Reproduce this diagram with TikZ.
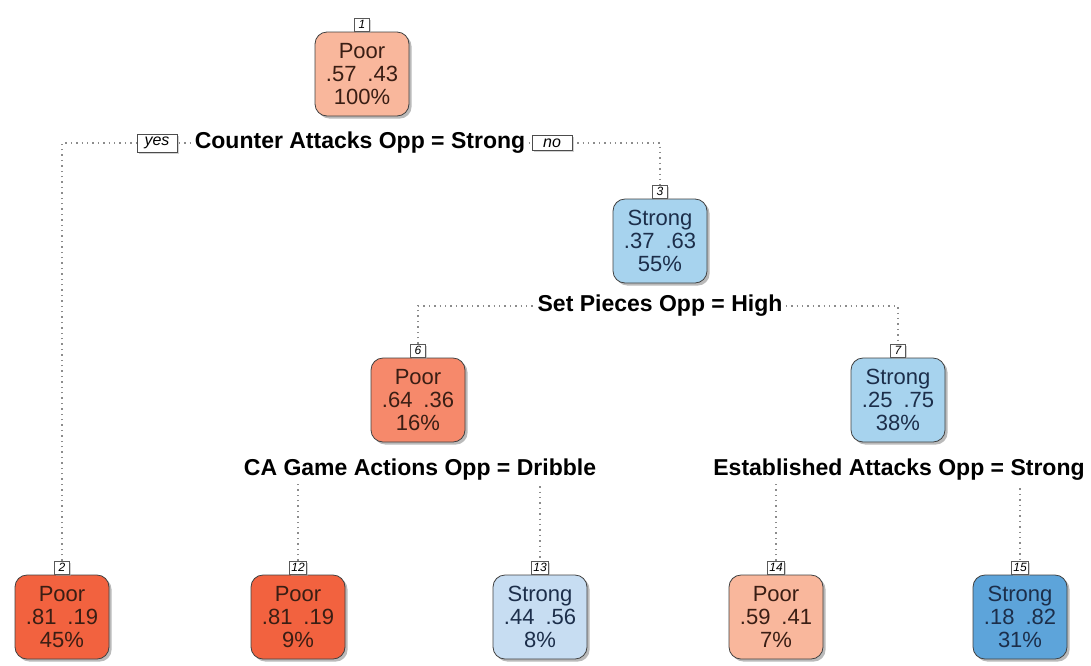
\documentclass[tikz,border=0pt]{standalone}
\usepackage{fontspec}
\setmainfont{Liberation Sans}
\usetikzlibrary{shadows,backgrounds}
\definecolor{poorlt}{HTML}{F9B79C}
\definecolor{poormd}{HTML}{F6896B}
\definecolor{poordk}{HTML}{F2623F}
\definecolor{stronglt}{HTML}{C7DDF2}
\definecolor{strongmd}{HTML}{A7D3EE}
\definecolor{strongdk}{HTML}{5DA4DA}
\definecolor{poortext}{HTML}{3A1E14}
\definecolor{strongtext}{HTML}{1C2E4A}
\tikzset{
	leaf/.style={draw=black!75, rounded corners=6pt, minimum width=47pt, minimum height=42pt, inner sep=1pt, align=center, font=\fontsize{11}{11.6}\selectfont, drop shadow={shadow xshift=1.3pt, shadow yshift=-1.3pt, fill=black!45, opacity=.6}},
	poor/.style={leaf, text=poortext},
	strong/.style={leaf, text=strongtext},
	numbox/.style={draw=black!65, fill=white, inner sep=1pt, minimum width=7.5pt, minimum height=6.5pt, anchor=south, font=\fontsize{6}{6}\selectfont\itshape, drop shadow={shadow xshift=.8pt, shadow yshift=-.8pt, fill=black!35, opacity=.5}},
	split/.style={fill=white, inner sep=1.5pt, font=\fontsize{11.5}{12}\selectfont\bfseries},
	yesno/.style={draw=black!70, fill=white, inner sep=1.5pt, minimum width=20pt, font=\fontsize{8}{8}\selectfont\itshape, drop shadow={shadow xshift=.8pt, shadow yshift=-.8pt, fill=black!35, opacity=.5}},
	link/.style={draw=black!45, dotted, line width=.7pt}
}
\begin{document}
\begin{tikzpicture}[x=0.5pt, y=-0.5pt]
			\useasboundingbox (0,0) rectangle (1091,665);
			\node[poor, fill=poorlt] (n1) at (362,74) {Poor\\.57\enspace.43\\100\%};
			\node[numbox] (n1lab) at (n1.north) {1};
			\node[split] (s1) at (360,143) {Counter Attacks Opp = Strong};
			\node[yesno] (yes) at (157,143) {yes};
			\node[yesno] (no) at (552,143) {no};
			\node[strong, fill=strongmd] (n3) at (660,241) {Strong\\.37\enspace.63\\55\%};
			\node[numbox] (n3lab) at (n3.north) {3};
			\node[split] (s2) at (660,306) {Set Pieces Opp = High};
			\node[poor, fill=poormd] (n6) at (418,400) {Poor\\.64\enspace.36\\16\%};
			\node[numbox] (n6lab) at (n6.north) {6};
			\node[strong, fill=strongmd] (n7) at (898,400) {Strong\\.25\enspace.75\\38\%};
			\node[numbox] (n7lab) at (n7.north) {7};
			\node[split] (s3) at (420,470) {CA Game Actions Opp = Dribble};
			\node[split] (s4) at (899,470) {Established Attacks Opp = Strong};
			\node[poor, fill=poordk] (n2) at (62,617) {Poor\\.81\enspace.19\\45\%};
			\node[numbox] (n2lab) at (n2.north) {2};
			\node[poor, fill=poordk] (n12) at (298,617) {Poor\\.81\enspace.19\\9\%};
			\node[numbox] (n12lab) at (n12.north) {12};
			\node[strong, fill=stronglt] (n13) at (540,617) {Strong\\.44\enspace.56\\8\%};
			\node[numbox] (n13lab) at (n13.north) {13};
			\node[poor, fill=poorlt] (n14) at (776,617) {Poor\\.59\enspace.41\\7\%};
			\node[numbox] (n14lab) at (n14.north) {14};
			\node[strong, fill=strongdk] (n15) at (1020,617) {Strong\\.18\enspace.82\\31\%};
			\node[numbox] (n15lab) at (n15.north) {15};
			\begin{pgfonlayer}{background}
				\draw[link] (n2lab.north) |- (s1) -| (n3lab.north);
				\draw[link] (n6lab.north) |- (s2) -| (n7lab.north);
				\draw[link] (n12lab.north) |- (s3) -| (n13lab.north);
				\draw[link] (n14lab.north) |- (s4) -| (n15lab.north);
			\end{pgfonlayer}
		\end{tikzpicture}
\end{document}
